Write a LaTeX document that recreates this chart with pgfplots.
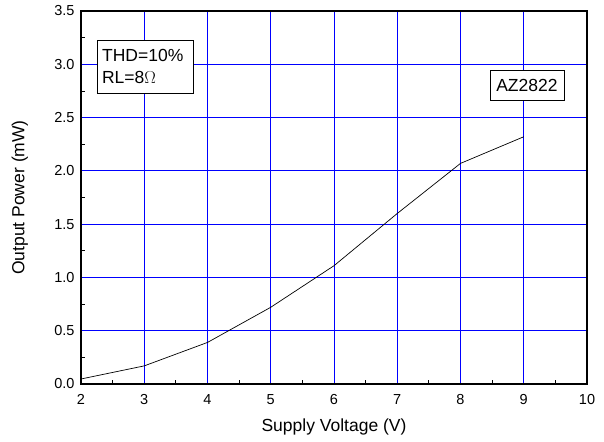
\documentclass[border=0pt]{standalone}
\usepackage{pgfplots}
\pgfplotsset{compat=1.18}
\usepackage{fontspec}
\setmainfont{Liberation Sans}
\begin{document}
\begin{tikzpicture}[x=1pt,y=1pt]
\begin{axis}[
  scale only axis,
  width=506pt, height=373pt,
  at={(81pt,57pt)}, anchor=south west,
  xmin=2, xmax=10, ymin=0, ymax=3.5,
  xtick={2,3,...,10},
  ytick={0,0.5,...,3.5},
  minor xtick={2.5,3.5,...,9.5},
  minor ytick={0.25,0.75,...,3.25},
  tick align=inside,
  xtick pos=bottom, ytick pos=left,
  major tick length=0pt,
  minor tick length=4pt,
  xmajorgrids, ymajorgrids,
  major grid style={blue, line width=0.8pt},
  axis line style={black, line width=1.4pt},
  tick style={black, line width=0.8pt},
  /pgf/number format/assume math mode=true,
  every tick label/.append style={font=\fontsize{14.5}{16}\selectfont},
  xticklabel style={yshift=-7pt},
  yticklabel style={xshift=-3pt, /pgf/number format/fixed, /pgf/number format/fixed zerofill, /pgf/number format/precision=1},
  xlabel={Supply Voltage (V)},
  ylabel={Output Power (mW)},
  label style={font=\fontsize{17.5}{20}\selectfont},
  xlabel style={at={(axis description cs:0.5,-0.115)}, anchor=center},
  ylabel style={at={(axis description cs:-0.121,0.5)}, anchor=center},
  clip=false,
]
\addplot[black, line width=0.7pt] coordinates {
  (2,0.047) (3,0.17) (4,0.39) (5,0.72) (6,1.11) (7,1.60) (8,2.07) (9,2.32)
};
\node[draw=black, fill=white, line width=0.6pt, anchor=north west, align=left,
  font=\fontsize{17.5}{22}\selectfont, inner sep=4pt, minimum width=96pt, minimum height=53pt, text width=86pt]
  at (axis cs:2.25,3.23) {THD=10\%\\RL=8$\Omega$};
\node[draw=black, fill=white, line width=0.6pt, anchor=center,
  font=\fontsize{17.5}{20}\selectfont, inner sep=3pt, minimum width=74pt, minimum height=30pt]
  at (axis cs:9.05,2.80) {AZ2822};
\end{axis}
\path[use as bounding box] (0,0) rectangle (604,441);
\end{tikzpicture}
\end{document}
